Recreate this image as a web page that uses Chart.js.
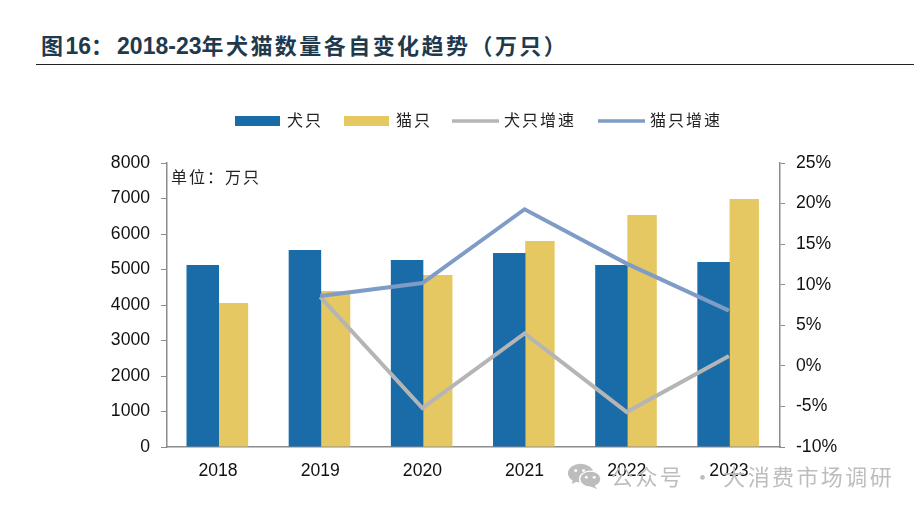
<!DOCTYPE html>
<html>
<head>
<meta charset="utf-8">
<script src="https://cdn.jsdelivr.net/npm/chart.js@4"></script>
<style>
  html, body { margin: 0; padding: 0; background: #fff; }
  #wrap { position: relative; width: 923px; height: 514px; overflow: hidden; }
  #title { position: absolute; left: 41px; top: 28px; font: bold 22px "Liberation Sans", "Noto Sans CJK SC", sans-serif; color: #1f3a4d; letter-spacing: 2.45px; white-space: nowrap; }
  #title .num { font-size: 23px; letter-spacing: 0; }
  #title .colon { letter-spacing: 4px; }
  #rule { position: absolute; left: 36px; top: 64px; width: 878px; height: 1px; background: #222; }
  #unit { position: absolute; left: 171px; top: 164px; font: 16px "Noto Sans CJK SC", sans-serif; color: #222; letter-spacing: 2px; white-space: nowrap; }
  #mark { position: absolute; left: 611px; top: 459px; font: 22px "Noto Sans CJK SC", sans-serif; color: #bdbdbd; letter-spacing: 2.4px; white-space: nowrap; }
  #wechat { position: absolute; left: 567px; top: 463px; }
  canvas { position: absolute; left: 0; top: 0; }
</style>
</head>
<body>
<div id="wrap">
  <div id="title">图<span class="num">16</span><span class="colon">：</span><span class="num">2018-23</span>年犬猫数量各自变化趋势（万只）</div>
  <div id="rule"></div>
  <canvas id="chart" width="923" height="514"></canvas>
  <div id="unit">单位：万只</div>
  <svg id="wechat" width="35" height="27" viewBox="0 0 36 32" preserveAspectRatio="none">
    <ellipse cx="14" cy="12" rx="13" ry="11" fill="#bdbdbd"/>
    <path d="M6 19 L5 25 L12 21 Z" fill="#bdbdbd"/>
    <ellipse cx="24" cy="19" rx="11" ry="9.5" fill="#bdbdbd" stroke="#fff" stroke-width="1.5"/>
    <path d="M28 26 L31 31 L23 27 Z" fill="#bdbdbd"/>
    <circle cx="20" cy="17" r="1.6" fill="#fff"/>
    <circle cx="28" cy="17" r="1.6" fill="#fff"/>
    <circle cx="9" cy="9" r="1.6" fill="#fff"/>
    <circle cx="17" cy="9" r="1.6" fill="#fff"/>
  </svg>
  <div id="mark">公众号 · 大消费市场调研</div>
</div>
<script>
// values
const years = ['2018', '2019', '2020', '2021', '2022', '2023'];
const dogs = [5127, 5549, 5267, 5465, 5127, 5211];
const cats = [4056, 4394, 4845, 5803, 6535, 6986];
const dogGrowth = [null, 8.5, -5.2, 4.0, -5.7, 1.2];
const catGrowth = [null, 8.6, 10.2, 19.3, 12.6, 6.8];
const leftTicks = [0, 1000, 2000, 3000, 4000, 5000, 6000, 7000, 8000];

const axisGrey = '#8c8c8c';
const tickFont = { family: 'Liberation Sans', size: 17.6 };

new Chart(document.getElementById('chart'), {
  data: {
    labels: years,
    datasets: [
      { type: 'line', label: '猫只增速', data: catGrowth, yAxisID: 'y2', borderColor: '#7f9cc6', borderWidth: 4, pointRadius: 0, tension: 0, order: 0 },
      { type: 'line', label: '犬只增速', data: dogGrowth, yAxisID: 'y2', borderColor: '#b5b5b5', borderWidth: 4, pointRadius: 0, tension: 0, order: 1 },
      { type: 'bar', label: '犬只', data: dogs, yAxisID: 'y', backgroundColor: '#1a6ca8', barPercentage: 1.06, categoryPercentage: 0.6, order: 2 },
      { type: 'bar', label: '猫只', data: cats, yAxisID: 'y', backgroundColor: '#e5c862', barPercentage: 0.96, categoryPercentage: 0.6, order: 2 }
    ]
  },
  options: {
    responsive: false,
    animation: false,
    layout: { padding: { left: 0, right: 83, top: 163, bottom: 27 } },
    plugins: {
      legend: { display: false },
      tooltip: { enabled: false }
    },
    scales: {
      x: {
        afterFit(s) { s.height = 40; },
        grid: { display: false },
        border: { color: axisGrey, width: 1.5 },
        ticks: { color: '#111', font: tickFont, padding: 6 }
      },
      y: {
        min: 0, max: 8000,
        afterFit(s) { s.width = 167; },
        afterBuildTicks(s) { s.ticks = leftTicks.map(v => ({ value: v })); },
        grid: { drawOnChartArea: false, color: axisGrey, tickLength: 6 },
        border: { color: axisGrey, width: 1.5 },
        ticks: { color: '#111', font: tickFont, padding: 11, callback: v => String(v) }
      },
      y2: {
        position: 'right',
        min: -10, max: 25,
        afterFit(s) { s.width = 60; },
        grid: { drawOnChartArea: false, color: axisGrey, tickLength: 5 },
        border: { color: axisGrey, width: 1.5 },
        ticks: { stepSize: 5, color: '#111', font: tickFont, padding: 11, callback: v => v + '%' }
      }
    }
  },
  plugins: [{
    // legend row drawn in the reference's spaced out layout
    id: 'topLegend',
    afterDraw(chart) {
      const c = chart.ctx;
      const items = [
        { t: '犬只', x: 235, w: 45, h: 10, col: '#1a6ca8' },
        { t: '猫只', x: 344, w: 45, h: 10, col: '#e5c862' },
        { t: '犬只增速', x: 452, w: 47, h: 3.5, col: '#b5b5b5' },
        { t: '猫只增速', x: 598, w: 47, h: 3.5, col: '#7f9cc6' }
      ];
      c.save();
      c.font = '16px "Noto Sans CJK SC"';
      c.textBaseline = 'middle';
      items.forEach(i => {
        c.fillStyle = i.col;
        c.fillRect(i.x, 121 - i.h / 2, i.w, i.h);
        c.fillStyle = '#222';
        c.letterSpacing = '2px';
        c.fillText(i.t, i.x + 52, 120);
      });
      c.restore();
    }
  }]
});
</script>
</body>
</html>
